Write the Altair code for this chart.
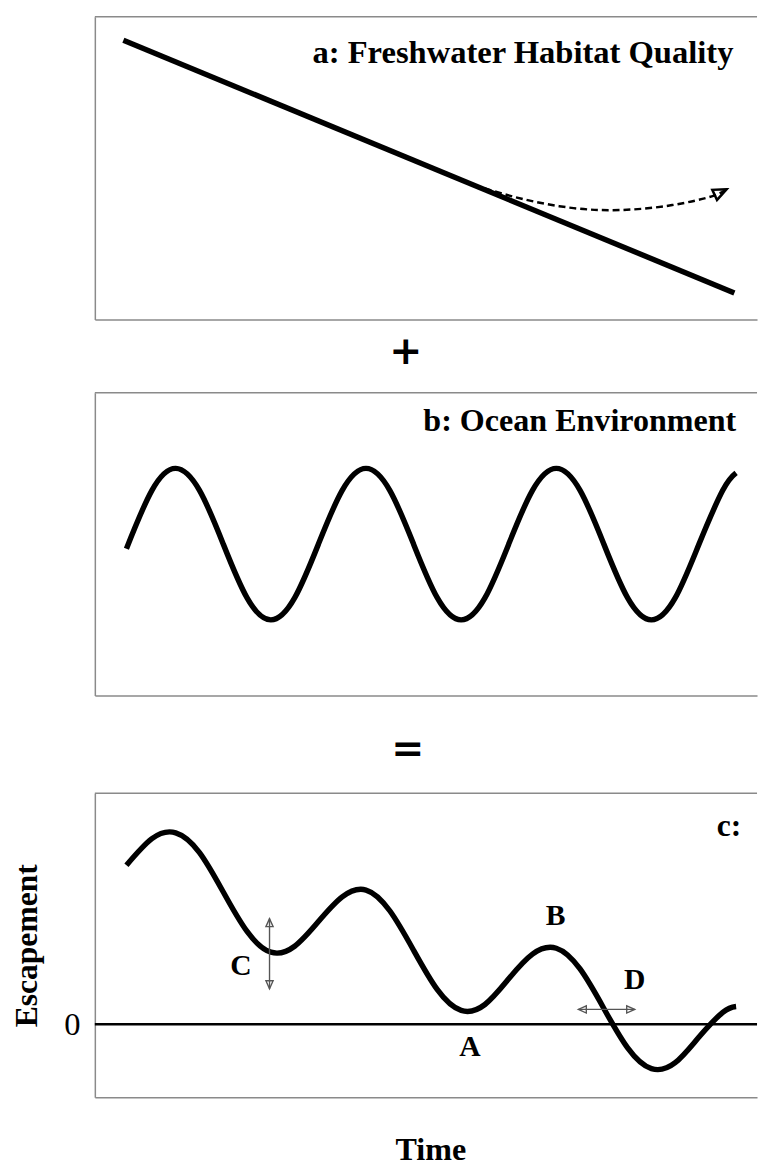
import altair as alt
import pandas as pd

SERIF = "Liberation Serif"
T_MAX = 34.8          # time axis extent shared by all panels
W = 671

# ---------- panel a: freshwater habitat quality ----------
hab_t = [1.50, 33.61]
hab_v = [9.22, 0.88]
alt_t = [20.49, 22.56, 25.16, 27.75, 30.34, 32.42, 33.20]
alt_v = [4.33, 3.97, 3.68, 3.62, 3.78, 4.07, 4.30]

# ---------- panel b: ocean environment ----------
ocean_t = [1.66, 3.0, 4.25, 5.5, 6.75, 8.0, 9.25, 10.5, 11.75, 13.0, 14.25, 15.5, 16.75,
           18.0, 19.25, 20.5, 21.75, 23.0, 24.25, 25.5, 26.75, 28.0, 29.25, 30.5, 31.75,
           33.0, 33.7]
ocean_v = [-0.06, 0.71, 1.0, 0.71, 0.0, -0.71, -1.0, -0.71, 0.0, 0.71, 1.0, 0.71, 0.0,
           -0.71, -1.0, -0.71, 0.0, 0.71, 1.0, 0.71, 0.0, -0.71, -1.0, -0.71, 0.0,
           0.71, 0.94]

# ---------- panel c: escapement ----------
esc_t = ocean_t
esc_v = [1.61, 1.88, 1.94, 1.74, 1.34, 0.94, 0.73, 0.79, 1.04, 1.29, 1.36, 1.15, 0.75,
         0.35, 0.14, 0.20, 0.46, 0.71, 0.77, 0.56, 0.16, -0.24, -0.45, -0.39, -0.13,
         0.12, 0.18]
lab_text = ["A", "B", "C", "D"]
lab_t = [19.71, 24.22, 7.68, 28.37]
lab_v = [-0.32, 1.01, 0.50, 0.36]
# double arrows C (vertical) and D (horizontal)
arr_t = [9.18, 25.41]
arr_t2 = [9.18, 28.37]
arr_v = [1.07, 0.15]
arr_v2 = [0.36, 0.15]
head_t = [9.18, 9.18, 25.41, 28.37]
head_v = [1.07, 0.36, 0.15, 0.15]
head_ang = [0, 180, 270, 90]

BORDER = "#8a8a8a"


def xs():
    return alt.Scale(domain=[0, T_MAX], nice=False, zero=False)


def ax(title=None):
    return alt.Axis(domain=True, domainColor=BORDER, domainWidth=1.5, ticks=False,
                    labels=False, grid=False, title=title)


def panel_enc(ydom, yaxis=None):
    yaxis = yaxis if yaxis is not None else ax()
    return dict(
        x=alt.X("t:Q", scale=xs(), axis=ax()),
        y=alt.Y("v:Q", scale=alt.Scale(domain=ydom, nice=False, zero=False), axis=yaxis),
    )


def top_border(ydom):
    df = pd.DataFrame({"t": [0], "t2": [T_MAX], "v": [ydom[1]]})
    return alt.Chart(df).mark_rule(color=BORDER, strokeWidth=1.5).encode(
        x2="t2:Q", **panel_enc(ydom))


# ----- panel a -----
YA = [0, 10]
a_line = alt.Chart(pd.DataFrame({"t": hab_t, "v": hab_v})).mark_line(
    color="black", strokeWidth=5.5).encode(**panel_enc(YA))
a_dash = alt.Chart(pd.DataFrame({"t": alt_t, "v": alt_v})).mark_line(
    color="black", strokeWidth=2.5, strokeDash=[7, 4], interpolate="natural").encode(**panel_enc(YA))
a_head = alt.Chart(pd.DataFrame({"t": [alt_t[-1]], "v": [alt_v[-1]], "ang": [65]})).mark_point(
    shape="M0,0 L-0.55,1.3 L0.55,1.3 Z", filled=False, stroke="black", strokeWidth=2.5,
    size=420, opacity=1).encode(angle=alt.Angle("ang:Q", scale=None), **panel_enc(YA))
a_title = alt.Chart(pd.DataFrame({"t": [33.56], "v": [8.47], "s": ["a: Freshwater Habitat Quality"]})).mark_text(
    font=SERIF, fontSize=33, fontWeight="bold", align="right", baseline="alphabetic",
    color="black").encode(text="s:N", **panel_enc(YA))
panel_a = alt.layer(top_border(YA), a_line, a_dash, a_head, a_title).properties(width=W, height=307)

# ----- panel b -----
YB = [-2, 2]
b_line = alt.Chart(pd.DataFrame({"t": ocean_t, "v": ocean_v})).mark_line(
    color="black", strokeWidth=5.5, interpolate="natural").encode(**panel_enc(YB))
b_title = alt.Chart(pd.DataFrame({"t": [33.71], "v": [1.49], "s": ["b: Ocean Environment"]})).mark_text(
    font=SERIF, fontSize=32.5, fontWeight="bold", align="right", baseline="alphabetic",
    color="black").encode(text="s:N", **panel_enc(YB))
panel_b = alt.layer(top_border(YB), b_line, b_title).properties(width=W, height=307)

# ----- panel c -----
YC = [-0.74, 2.34]
c_yaxis = alt.Axis(domain=True, domainColor=BORDER, domainWidth=1.5, ticks=False, tickSize=0,
                   labels=True, values=[0], labelFont=SERIF, labelFontSize=33, labelColor="black",
                   labelPadding=15, grid=False, title="Escapement", titleFont=SERIF,
                   titleFontSize=32, titleFontWeight="bold", titleColor="black", titlePadding=21)


def c_enc():
    e = panel_enc(YC, c_yaxis)
    e["x"] = alt.X("t:Q", scale=xs(), axis=alt.Axis(
        domain=True, domainColor=BORDER, domainWidth=1.5, ticks=False, labels=False, grid=False,
        title="Time", titleFont=SERIF, titleFontSize=32.5, titleFontWeight="bold",
        titleColor="black", titlePadding=37, titleX=340))
    return e


c_border = alt.Chart(pd.DataFrame({"t": [0], "t2": [T_MAX], "v": [YC[1]]})).mark_rule(
    color=BORDER, strokeWidth=1.5).encode(x2="t2:Q", **c_enc())
c_zero = alt.Chart(pd.DataFrame({"t": [0], "t2": [T_MAX], "v": [0]})).mark_rule(
    color="black", strokeWidth=2.4).encode(x2="t2:Q", **c_enc())
c_line = alt.Chart(pd.DataFrame({"t": esc_t, "v": esc_v})).mark_line(
    color="black", strokeWidth=5.5, interpolate="natural").encode(**c_enc())
c_arrows = alt.Chart(pd.DataFrame({"t": arr_t, "t2": arr_t2, "v": arr_v, "v2": arr_v2})).mark_rule(
    color="#555555", strokeWidth=1.4).encode(x2="t2:Q", y2="v2:Q", **c_enc())
c_heads = alt.Chart(pd.DataFrame({"t": head_t, "v": head_v, "ang": head_ang})).mark_point(
    shape="M0,0 L-0.45,1 L0.45,1 Z", filled=False, stroke="#555555", strokeWidth=1.4,
    size=260, opacity=1).encode(angle=alt.Angle("ang:Q", scale=None), **c_enc())
c_labels = alt.Chart(pd.DataFrame({"t": lab_t, "v": lab_v, "s": lab_text})).mark_text(
    font=SERIF, fontSize=30, fontWeight="bold", align="center", baseline="alphabetic",
    color="black").encode(text="s:N", **c_enc())
c_title = alt.Chart(pd.DataFrame({"t": [33.97], "v": [1.91], "s": ["c:"]})).mark_text(
    font=SERIF, fontSize=32, fontWeight="bold", align="right", baseline="alphabetic",
    color="black").encode(text="s:N", **c_enc())
panel_c = alt.layer(c_border, c_zero, c_line, c_arrows, c_heads, c_labels, c_title).properties(
    width=W, height=308)


# ----- operator symbols between panels -----
def operator(sym, t, v, h):
    df = pd.DataFrame({"t": [t], "v": [v], "s": [sym]})
    return alt.Chart(df).mark_text(font="DejaVu Sans", fontSize=40, fontWeight="bold",
                                   baseline="middle", align="center", color="black").encode(
        x=alt.X("t:Q", scale=xs(), axis=None),
        y=alt.Y("v:Q", scale=alt.Scale(domain=[0, 1], nice=False, zero=False), axis=None),
        text="s:N").properties(width=W, height=h)


plus = operator("+", 16.34, 0.554, 74)
equals = operator("=", 16.44, 0.444, 99)

chart = alt.vconcat(panel_a, plus, panel_b, equals, panel_c, spacing=0, bounds="flush").properties(
    padding={"left": 2, "top": 0, "right": 0, "bottom": 0}
).configure_view(stroke=None)

chart.save("out.html", embed_options={"renderer": "svg", "actions": False})
